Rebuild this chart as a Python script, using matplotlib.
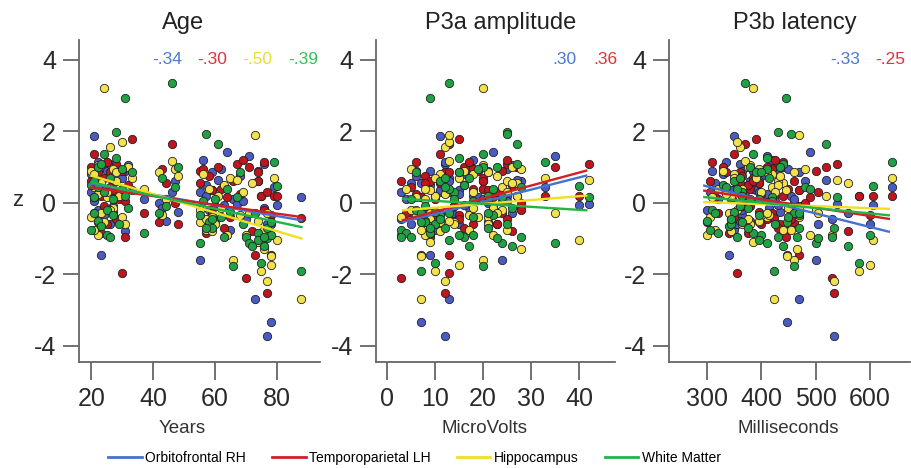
import numpy as np
import matplotlib
matplotlib.use("Agg")
import matplotlib.pyplot as plt
from matplotlib.lines import Line2D

plt.rcParams["font.family"] = ["Liberation Sans", "DejaVu Sans"]

# subjects: age / P3a amplitude / P3b latency, and z-scores per region
age = [20, 20, 21, 21, 22, 22, 23, 23, 24, 24, 25, 25, 26, 27, 27, 28, 29, 30, 30, 31, 32, 33,
       37, 42, 43, 46, 47, 48,
       55, 55, 56, 57, 58, 59, 60, 61, 63, 64, 65, 66, 67, 68, 70, 71, 72, 73, 74, 75, 76, 77, 77,
       78, 78, 79, 80, 88,
       21, 22, 26, 28, 31, 57, 62, 69, 74, 76, 44, 59]
p3a = [16, 3, 11, 24, 8, 20, 9, 27, 20, 14, 6, 18, 12, 22, 5, 25, 10, 13, 19, 9, 26, 15,
       4, 21, 17, 13, 28, 23,
       24, 11, 18, 25, 8, 21, 14, 27, 16, 22, 10, 20, 42, 6, 3, 35, 26, 13, 9, 10, 17, 12, 23,
       7, 15, 33, 40, 7,
       7, 12, 5, 15, 21, 9, 18, 25, 13, 28, 8, 11]
p3b = [330, 305, 350, 420, 300, 380, 340, 440, 385, 365, 310, 400, 360, 470, 395, 430, 345, 355,
       410, 445, 375, 390,
       320, 460, 415, 370, 480, 435,
       500, 395, 420, 455, 365, 470, 380, 520, 430, 490, 350, 460, 540, 400, 530, 410, 560, 470,
       385, 580, 440, 534, 505, 447, 600, 640, 605, 423,
       315, 335, 355, 410, 365, 375, 450, 425, 395, 465, 360, 345]

z_orb = [0.8, 0.3, 1.86, 0.05, -0.2, 0.6, -1.47, 1.0, 0.4, -0.35, 0.9, 0.2, 1.1, -0.1, 0.55,
         0.95, -0.45, 0.7, 0.15, -0.8, 1.05, 0.35,
         0.1, 0.0, -0.15, 0.3, 0.6, -0.25,
         -1.6, 0.3, 1.2, 0.2, -0.2, 0.85, -0.5, 0.65, -0.05, 1.42, -0.75, 0.1, -0.03, 0.75, -0.45,
         1.3, -0.3, -2.7, 0.9, 0.2, 1.1, -3.72, -0.6, -3.33, -0.6, 0.45, -0.06, 0.17,
         0.55, 1.15, -0.6, 0.25, 0.9, 0.5, 0.95, 0.05, 0.6, -0.15, -0.5, 0.35]
z_temp = [1.0, 0.6, 1.36, -0.3, -0.55, 0.4, -0.85, 0.2, 0.7, -0.1, 1.15, -0.6, 0.85, 0.35, -0.25,
          1.1, 0.1, -1.97, 0.9, -0.95, 0.5, 1.78,
          -0.3, -0.55, 0.95, 1.64, 0.0, -0.6,
          0.9, 0.55, 0.95, -0.45, 0.75, 0.35, -0.1, 1.0, -0.7, 0.15, -0.4, 0.6, 1.08, 0.25, -2.1,
          1.0, -0.8, -1.47, 0.6, 0.2, 1.15, -2.53, 0.3, -1.45, -0.35, 0.2, 0.2, -0.44,
          0.15, 0.85, 0.45, -0.45, 0.05, -0.85, 0.4, 1.2, 0.85, -0.2, 0.55, -0.3]
z_hip = [0.9, -0.4, 0.8, 0.45, -0.9, 1.05, -0.3, 0.55, 3.22, -0.55, 0.15, 0.3, 1.55, -0.15, 0.95,
         0.6, 0.2, 1.69, -0.4, 0.35, 1.0, 0.7,
         0.4, 0.85, -0.35, 1.17, 0.95, 0.75,
         -0.2, -0.55, 0.8, -0.75, 0.4, -0.4, -0.6, 0.2, 0.5, -0.9, 0.7, -1.6, 0.65, -0.35, -0.9,
         -0.3, 0.55, 1.89, -1.1, -1.92, -0.75, -2.2, -0.3, -1.5, -1.75, 0.7, -1.05, -2.7,
         -0.75, 0.25, -0.2, 0.85, -0.6, -0.45, -0.15, 0.3, -0.5, -1.3, 0.1, -0.8]
z_wm = [0.5, -0.75, 0.6, 0.15, -0.5, 1.0, -0.65, 1.1, 1.36, 0.3, -0.2, -0.9, 0.7, -0.35, 0.1,
        1.97, -0.6, 0.4, 0.95, 2.94, -0.15, 0.85,
        -0.85, -0.3, 0.7, 3.36, 0.45, 1.0,
        -1.14, -0.35, 0.05, 1.92, -0.55, -0.7, 0.1, 1.64, -0.95, 0.4, -0.25, -1.78, 0.16, 0.85,
        -0.95, -1.14, -1.2, -0.3, -0.85, -1.7, -1.2, -0.72, -1.0, -0.55, -0.9, 1.15, 0.47, -1.9,
        -0.3, 0.45, -0.95, 1.25, 0.2, -0.7, -0.4, -0.6, -1.05, -0.95, -0.1, -0.45]

regions = ["Orbitofrontal RH", "Temporoparietal LH", "Hippocampus", "White Matter"]
z_all = [z_orb, z_temp, z_hip, z_wm]
dot_colors = ["#4a5cc4", "#c0141e", "#f2e04c", "#20a244"]
line_colors = ["#4472d0", "#d41e26", "#f0e020", "#22b446"]
r_colors = ["#4a78d4", "#e0323a", "#e6de3a", "#34c056"]

titles = ["Age", "P3a amplitude", "P3b latency"]
xlabels = ["Years", "MicroVolts", "Milliseconds"]
xs = [age, p3a, p3b]
xlims = [(16, 94), (-2.3, 47.5), (230, 674)]
xticks = [[20, 40, 60, 80], [0, 10, 20, 30, 40], [300, 400, 500, 600]]

# fitted lines: x start/end and z start/end per region
fit_x = [(20, 88), (3.3, 41.5), (295, 635)]
fit_z = [
    [(0.53, -0.49), (0.43, -0.40), (0.76, -1.00), (0.57, -0.68)],
    [(-0.54, 0.76), (-0.49, 0.90), (-0.21, 0.20), (0.11, -0.21)],
    [(0.48, -0.81), (0.34, -0.45), (0.02, -0.17), (0.16, -0.35)],
]
r_text = [["-.34", "-.30", "-.50", "-.39"], [".30", ".36"], ["-.33", "-.25"]]
r_xpos = [[0.365, 0.552, 0.739, 0.93], [0.79, 0.958], [0.73, 0.917]]
title_x = [0.43, 0.52, 0.52]
xlabel_x = [0.43, 0.456, 0.494]

W, H = 911, 468
fig = plt.figure(figsize=(W / 100, H / 100), dpi=100)
lefts = [79, 376, 669]
widths = [241, 239, 241]

for i in range(3):
    ax = fig.add_axes([lefts[i] / W, (H - 362) / H, widths[i] / W, 322 / H])
    for k in range(4):
        ax.scatter(xs[i], z_all[k], s=36, color=dot_colors[k], edgecolors="#222222",
                   linewidths=0.6, zorder=2)
    for k in range(4):
        ax.plot(fit_x[i], fit_z[i][k], color=line_colors[k], lw=1.7, zorder=3)
    for j, t in enumerate(r_text[i]):
        ax.text(r_xpos[i][j], 0.938, t, transform=ax.transAxes, ha="center", va="center",
                fontsize=12.5, color=r_colors[j])
    ax.text(title_x[i], 1.053, titles[i], transform=ax.transAxes, ha="center", va="center",
            fontsize=17, color="#222222")
    ax.text(xlabel_x[i], -0.208, xlabels[i], transform=ax.transAxes, ha="center",
            va="center", fontsize=13.5, color="#333333")
    ax.set_xlim(xlims[i])
    ax.set_ylim(-4.46, 4.56)
    ax.set_xticks(xticks[i])
    ax.set_yticks([-4, -2, 0, 2, 4])
    ax.set_yticklabels(["-4", "-2", "0", "2", "4"])
    for s in ["top", "right"]:
        ax.spines[s].set_visible(False)
    for s in ["left", "bottom"]:
        ax.spines[s].set_color("#666666")
        ax.spines[s].set_linewidth(1.3)
    ax.tick_params(axis="x", length=13, width=1.3, color="#666666", labelsize=18,
                   labelcolor="#2a2a2a", pad=5)
    ax.tick_params(axis="y", length=11.5, width=1.3, color="#666666", labelsize=18,
                   labelcolor="#2a2a2a", pad=5)

fig.text(18 / W, 1 - 200 / H, "z", fontsize=16, ha="center", va="center", color="#2a2a2a")

handles = [Line2D([0], [0], color=c, lw=2) for c in line_colors]
fig.legend(handles, regions, loc="center", bbox_to_anchor=(0.455, 0.021), ncol=4,
           frameon=False, fontsize=10, handlelength=2.4, handletextpad=0.25,
           columnspacing=1.9)

fig.savefig("out.png", dpi=100)
